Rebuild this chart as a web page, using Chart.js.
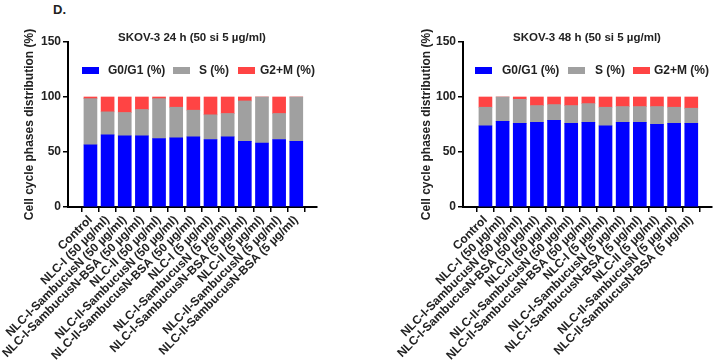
<!DOCTYPE html>
<html>
<head>
<meta charset="utf-8">
<script src="https://cdn.jsdelivr.net/npm/chart.js@4"></script>
<style>
  body { margin: 0; background: #fff; font-family: "Liberation Sans", Arial, sans-serif; }
  #wrap { position: relative; width: 720px; height: 361px; overflow: hidden; }
  .panel { position: absolute; top: 0; width: 360px; height: 361px; }
  .panel canvas { position: absolute; left: 0; top: 0; }
  .title { position: absolute; top: 31px; font-weight: bold; font-size: 11.5px; color: #222; white-space: nowrap; transform: translateX(-50%); }
  .legtext { position: absolute; top: 63px; font-weight: bold; font-size: 12px; color: #222; white-space: nowrap; }
  .legbox { position: absolute; top: 67px; width: 17px; height: 7px; }
  #tag { position: absolute; left: 53px; top: 2px; font-weight: bold; font-size: 13px; color: #222; }
</style>
</head>
<body>
<div id="wrap">
  <div id="tag">D.</div>
  <div class="panel" id="p24" style="left:0"><canvas id="c24" width="360" height="361"></canvas></div>
  <div class="panel" id="p48" style="left:360px"><canvas id="c48" width="360" height="361"></canvas></div>
</div>
<script>
(function() {
    'use strict';

    const categories = [
        'Control',
        'NLC-I (50 µg/ml)',
        'NLC-I-SambucusN (50 µg/ml)',
        'NLC-I-SambucusN-BSA (50 µg/ml)',
        'NLC-II (50 µg/ml)',
        'NLC-II-SambucusN (50 µg/ml)',
        'NLC-II-SambucusN-BSA (50 µg/ml)',
        'NLC-I (5 µg/ml)',
        'NLC-I-SambucusN (5 µg/ml)',
        'NLC-I-SambucusN-BSA (5 µg/ml)',
        'NLC-II (5 µg/ml)',
        'NLC-II-SambucusN (5 µg/ml)',
        'NLC-II-SambucusN-BSA (5 µg/ml)'
    ];
    const seriesNames = ['G0/G1 (%)', 'S (%)', 'G2+M (%)'];
    const seriesColors = ['#0000ff', '#a0a0a0', '#ff4444'];
    const yTicks = [0, 50, 100, 150];

    // SKOV-3 24 h
    const g0g1_24h = [56.5, 65.5, 64.7, 64.7, 62.3, 62.9, 63.8, 61.4, 63.8, 59.6, 58.1, 61.4, 59.6];
    const s_24h    = [42.0, 21.0, 21.2, 23.9, 36.2, 27.8, 24.2, 22.4, 21.2, 36.8, 41.9, 23.6, 40.4];
    const g2m_24h  = [1.5, 13.5, 14.1, 11.4, 1.5, 9.3, 12.0, 16.2, 15.0, 3.6, 0, 15.0, 0];

    // SKOV-3 48 h
    const g0g1_48h = [73.7, 77.8, 76.0, 76.9, 78.7, 76.0, 76.9, 73.7, 76.9, 76.9, 75.1, 76.0, 76.0];
    const s_48h    = [17.0, 22.2, 21.9, 15.3, 14.4, 16.2, 17.1, 17.0, 14.4, 14.4, 16.2, 14.7, 13.8];
    const g2m_48h  = [9.3, 0, 2.1, 7.8, 6.9, 7.8, 6.0, 9.3, 8.7, 8.7, 8.7, 9.3, 10.2];

    const panels = [
        { canvas: 'c24', panel: 'p24', title: 'SKOV-3 24 h (50 si 5 µg/ml)', titleX: 192,
          values: [g0g1_24h, s_24h, g2m_24h], padLeft: 18, yWidth: 50, padRight: 43,
          boxX: [82, 173, 238], textX: [108, 199, 260] },
        { canvas: 'c48', panel: 'p48', title: 'SKOV-3 48 h (50 si 5 µg/ml)', titleX: 227,
          values: [g0g1_48h, s_48h, g2m_48h], padLeft: 55, yWidth: 48, padRight: 8,
          boxX: [115, 208, 273], textX: [142, 235, 294] }
    ];

    function addLegend(p) {
        const el = document.getElementById(p.panel);
        const t = document.createElement('div');
        t.className = 'title';
        t.style.left = p.titleX + 'px';
        t.textContent = p.title;
        el.appendChild(t);
        for (let k = 0; k < seriesNames.length; k++) {
            const box = document.createElement('div');
            box.className = 'legbox';
            box.style.left = p.boxX[k] + 'px';
            box.style.background = seriesColors[k];
            el.appendChild(box);
            const txt = document.createElement('div');
            txt.className = 'legtext';
            txt.style.left = p.textX[k] + 'px';
            txt.textContent = seriesNames[k];
            el.appendChild(txt);
        }
    }

    function makeChart(p) {
        const ctx = document.getElementById(p.canvas).getContext('2d');
        return new Chart(ctx, {
            type: 'bar',
            data: {
                datasets: p.values.map((vals, k) => ({
                    label: seriesNames[k],
                    data: vals.map((y, i) => ({ x: i, y: y })),
                    backgroundColor: seriesColors[k],
                    borderWidth: 0,
                    barThickness: 13
                }))
            },
            options: {
                responsive: false,
                animation: false,
                devicePixelRatio: 1,
                layout: { padding: { left: p.padLeft, top: 42, right: p.padRight, bottom: 0 } },
                plugins: { legend: { display: false }, tooltip: { enabled: false } },
                scales: {
                    x: {
                        type: 'linear',
                        stacked: true,
                        min: -0.75,
                        max: 12.65,
                        afterBuildTicks: s => { s.ticks = categories.map((c, i) => ({ value: i })); },
                        afterFit: s => { s.height = 154; },
                        grid: { drawOnChartArea: false, tickLength: 5, color: '#000', lineWidth: 1.5 },
                        border: { color: '#000', width: 2 },
                        ticks: {
                            autoSkip: false,
                            minRotation: 45,
                            maxRotation: 45,
                            padding: 1,
                            color: '#222',
                            font: { family: 'Liberation Sans', size: 12, weight: 'bold' },
                            callback: v => categories[v]
                        }
                    },
                    y: {
                        stacked: true,
                        min: 0,
                        max: 150,
                        afterBuildTicks: s => { s.ticks = yTicks.map(v => ({ value: v })); },
                        afterFit: s => { s.width = p.yWidth; },
                        grid: { drawOnChartArea: false, tickLength: 5, color: '#000', lineWidth: 1.5 },
                        border: { color: '#000', width: 2 },
                        ticks: {
                            padding: 2,
                            color: '#222',
                            font: { family: 'Liberation Sans', size: 12, weight: 'bold' }
                        },
                        title: {
                            display: true,
                            text: 'Cell cycle phases distribution (%)',
                            color: '#222',
                            font: { family: 'Liberation Sans', size: 12, weight: 'bold' }
                        }
                    }
                }
            }
        });
    }

    panels.forEach(p => {
        addLegend(p);
        makeChart(p);
    });
})();
</script>
</body>
</html>
